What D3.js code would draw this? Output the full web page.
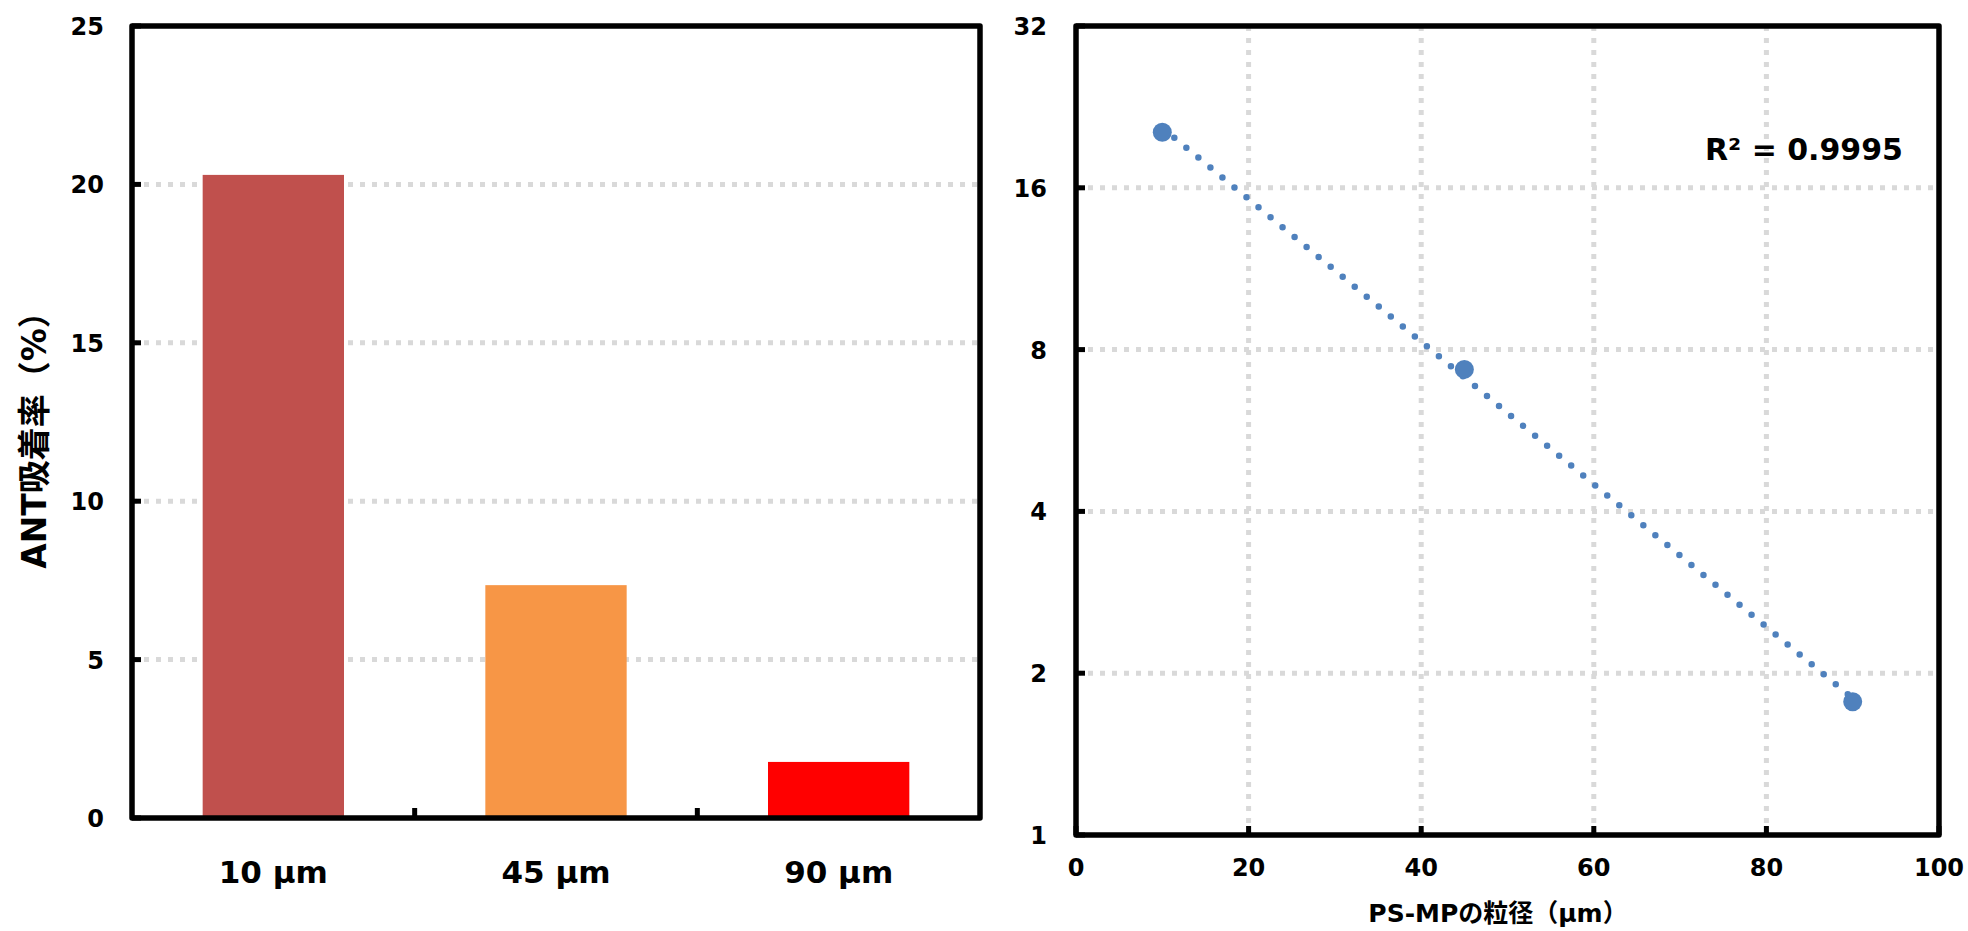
<!DOCTYPE html>
<html>
<head>
<meta charset="utf-8">
<script src="https://cdn.jsdelivr.net/npm/d3@7"></script>
<style>
html,body{margin:0;padding:0;background:#fff;}
svg text{font-family:"DejaVu Sans","Noto Sans CJK JP",sans-serif;font-weight:bold;fill:#000;}
</style>
</head>
<body>
<svg id="chart" width="1968" height="931"></svg>
<script>
// ---- data ----
const categories = ["10 µm", "45 µm", "90 µm"];
const adsorption = [20.3, 7.35, 1.77];           // ANT吸着率 (%)
const barColors = ["#c0504d", "#f79646", "#ff0000"];
const particleSize = [10, 45, 90];                // µm
const leftTicks = [0, 5, 10, 15, 20, 25];
const rightYTicks = [1, 2, 4, 8, 16, 32];
const rightXTicks = [0, 20, 40, 60, 80, 100];
const leftYTitle = "ANT吸着率（%）";
const rightXTitle = "PS-MPの粒径（µm）";
const r2Label = "R² = 0.9995";

const svg = d3.select("#chart");
const gridColor = "#d9d9d9";
const frameW = 5.5;

// ---------------- Left chart ----------------
const L = {x0: 132, x1: 980, y0: 26, y1: 818};
const xL = d3.scaleBand().domain(categories).range([L.x0, L.x1]).paddingInner(0.5).paddingOuter(0.25);
const yL = d3.scaleLinear().domain([0, 25]).range([L.y1, L.y0]);

const gL = svg.append("g");
gL.selectAll("line.grid").data(leftTicks.filter(t => t > 0 && t < 25)).enter().append("line")
  .attr("x1", L.x0).attr("x2", L.x1).attr("y1", d => yL(d)).attr("y2", d => yL(d))
  .attr("stroke", gridColor).attr("stroke-width", 5).attr("stroke-dasharray", "5 7");
gL.selectAll("rect.bar").data(categories).enter().append("rect")
  .attr("x", d => xL(d)).attr("width", xL.bandwidth())
  .attr("y", (d, i) => yL(adsorption[i])).attr("height", (d, i) => yL(0) - yL(adsorption[i]))
  .attr("fill", (d, i) => barColors[i]);
gL.append("rect").attr("x", L.x0).attr("y", L.y0).attr("width", L.x1 - L.x0).attr("height", L.y1 - L.y0)
  .attr("fill", "none").attr("stroke", "#000").attr("stroke-width", frameW).attr("stroke-linejoin", "round");
gL.selectAll("line.yt").data(leftTicks).enter().append("line")
  .attr("x1", L.x0).attr("x2", L.x0 + 9).attr("y1", d => yL(d)).attr("y2", d => yL(d))
  .attr("stroke", "#000").attr("stroke-width", 5);
gL.selectAll("text.yl").data(leftTicks).enter().append("text")
  .attr("x", 104).attr("y", d => yL(d) + 9).attr("text-anchor", "end")
  .style("font-size", "24px").text(d => d);
const stepL = xL.step();
const gapL = stepL - xL.bandwidth();
gL.selectAll("line.xt").data(categories.slice(1)).enter().append("line")
  .attr("x1", d => xL(d) - gapL / 2).attr("x2", d => xL(d) - gapL / 2)
  .attr("y1", L.y1).attr("y2", L.y1 - 10)
  .attr("stroke", "#000").attr("stroke-width", 5);
gL.selectAll("text.xl").data(categories).enter().append("text")
  .attr("x", d => xL(d) + xL.bandwidth() / 2).attr("y", 883).attr("text-anchor", "middle")
  .style("font-size", "31px").text(d => d);
gL.append("text").attr("transform", "translate(46,432) rotate(-90)")
  .attr("text-anchor", "middle").style("font-size", "33px").text(leftYTitle);

// ---------------- Right chart ----------------
const R = {x0: 1076, x1: 1939, y0: 26, y1: 835};
const xR = d3.scaleLinear().domain([0, 100]).range([R.x0, R.x1]);
const yR = d3.scaleLog().base(2).domain([1, 32]).range([R.y1, R.y0]);
const gR = svg.append("g");
const blue = "#4f81bd";

gR.selectAll("line.gx").data(rightXTicks.filter(t => t > 0 && t < 100)).enter().append("line")
  .attr("x1", d => xR(d)).attr("x2", d => xR(d)).attr("y1", R.y0).attr("y2", R.y1)
  .attr("stroke", gridColor).attr("stroke-width", 5).attr("stroke-dasharray", "5 7");
gR.selectAll("line.gy").data(rightYTicks.filter(t => t > 1 && t < 32)).enter().append("line")
  .attr("x1", R.x0).attr("x2", R.x1).attr("y1", d => yR(d)).attr("y2", d => yR(d))
  .attr("stroke", gridColor).attr("stroke-width", 5).attr("stroke-dasharray", "5 7");

// exponential trendline (least squares on ln y)
const lnY = adsorption.map(v => Math.log(v));
const mx = d3.mean(particleSize), my = d3.mean(lnY);
let sxy = 0, sxx = 0;
particleSize.forEach((x, i) => { sxy += (x - mx) * (lnY[i] - my); sxx += (x - mx) * (x - mx); });
const b = sxy / sxx, a = my - b * mx;
const xmin = d3.min(particleSize), xmax = d3.max(particleSize);
gR.append("line")
  .attr("x1", xR(xmin)).attr("y1", yR(Math.exp(a + b * xmin)))
  .attr("x2", xR(xmax)).attr("y2", yR(Math.exp(a + b * xmax)))
  .attr("stroke", blue).attr("stroke-width", 6.5).attr("stroke-linecap", "round")
  .attr("stroke-dasharray", "0 15.6");

gR.selectAll("circle").data(particleSize).enter().append("circle")
  .attr("cx", d => xR(d)).attr("cy", (d, i) => yR(adsorption[i])).attr("r", 9.5)
  .attr("fill", blue);

gR.append("rect").attr("x", R.x0).attr("y", R.y0).attr("width", R.x1 - R.x0).attr("height", R.y1 - R.y0)
  .attr("fill", "none").attr("stroke", "#000").attr("stroke-width", frameW).attr("stroke-linejoin", "round");

gR.selectAll("line.yt").data(rightYTicks).enter().append("line")
  .attr("x1", R.x0).attr("x2", R.x0 + 9).attr("y1", d => yR(d)).attr("y2", d => yR(d))
  .attr("stroke", "#000").attr("stroke-width", 5);
gR.selectAll("text.yl").data(rightYTicks).enter().append("text")
  .attr("x", 1047).attr("y", d => yR(d) + 9).attr("text-anchor", "end")
  .style("font-size", "24px").text(d => d);
gR.selectAll("line.xt").data(rightXTicks).enter().append("line")
  .attr("x1", d => xR(d)).attr("x2", d => xR(d)).attr("y1", R.y1).attr("y2", R.y1 - 9)
  .attr("stroke", "#000").attr("stroke-width", 5);
gR.selectAll("text.xl").data(rightXTicks).enter().append("text")
  .attr("x", d => xR(d)).attr("y", 876).attr("text-anchor", "middle")
  .style("font-size", "24px").text(d => d);

gR.append("text").attr("x", 1498).attr("y", 922).attr("text-anchor", "middle")
  .style("font-size", "25px").text(rightXTitle);
gR.append("text").attr("x", 1903).attr("y", 160).attr("text-anchor", "end")
  .style("font-size", "30px").text(r2Label);
</script>
</body>
</html>
